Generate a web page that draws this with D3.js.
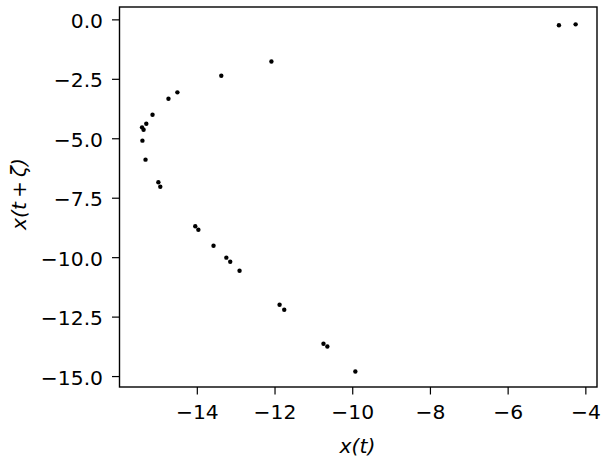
<!DOCTYPE html>
<html><head><meta charset="utf-8">
<script src="https://cdn.jsdelivr.net/npm/d3@7"></script>
<style>body{margin:0;background:#fff}svg{display:block}</style>
</head><body>
<script>
const xt = [-12.08,-13.37,-14.50,-14.73,-15.14,-15.30,-15.41,-15.37,-15.40,-15.32,-14.99,-14.94,
            -14.04,-13.96,-13.57,-13.24,-13.14,-12.90,-11.87,-11.75,-10.74,-10.64,-9.92,-4.68,-4.25];
const xtz = [-1.77,-2.37,-3.07,-3.34,-4.01,-4.39,-4.54,-4.64,-5.10,-5.90,-6.85,-7.04,
             -8.70,-8.85,-9.52,-10.02,-10.19,-10.57,-12.00,-12.21,-13.64,-13.76,-14.81,-0.25,-0.21];
const xTicks = [-14,-12,-10,-8,-6,-4];
const yTicks = [0,-2.5,-5,-7.5,-10,-12.5,-15];

const W=608,H=464, m={l:119.5,t:7,r:11,b:77};
const svg=d3.select("body").append("svg").attr("width",W).attr("height",H);
const x=d3.scaleLinear().domain([-15.99,-3.70]).range([m.l,W-m.r]);
const y=d3.scaleLinear().domain([-15.46,0.52]).range([H-m.b,m.t]);
const font="DejaVu Sans";
const fs=20.3;

const xa=svg.append("g").attr("transform",`translate(0,${H-m.b})`)
  .call(d3.axisBottom(x).tickValues(xTicks).tickFormat(d=>d3.format("d")(d).replace("-","\u2212")).tickSizeOuter(0).tickSize(7.5).tickPadding(10));
const ya=svg.append("g").attr("transform",`translate(${m.l},0)`)
  .call(d3.axisLeft(y).tickValues(yTicks).tickFormat(d=>d3.format(".1f")(d).replace("-","\u2212")).tickSizeOuter(0).tickSize(7.5).tickPadding(9));
[xa,ya].forEach(a=>{
  a.select(".domain").remove();
  a.attr("font-size",fs).attr("font-family",font);
  a.selectAll("line").attr("stroke","#000").attr("stroke-width",1.2);
  a.selectAll("text").style("font-family",font).style("font-size",fs+"px").attr("fill","#000");
});
ya.selectAll("text").attr("dy","0.4em");

svg.append("rect").attr("x",m.l).attr("y",m.t).attr("width",W-m.l-m.r).attr("height",H-m.t-m.b)
  .attr("fill","none").attr("stroke","#000").attr("stroke-width",1.4);

svg.append("g").selectAll("circle").data(xt).join("circle")
  .attr("cx",d=>x(d)).attr("cy",(d,i)=>y(xtz[i])).attr("r",2.2).attr("fill","#000");

svg.append("text").attr("x",357.5).attr("y",453).attr("text-anchor","middle")
  .style("font-family",font).style("font-size",fs+"px").attr("font-style","italic").text("x(t)");
svg.append("text").attr("transform",`translate(26,194) rotate(-90)`).attr("text-anchor","middle")
  .style("font-family",font).style("font-size",fs+"px").attr("font-style","italic").text("x(t\u2009+\u2009\u03B6)");
</script>
</body></html>
